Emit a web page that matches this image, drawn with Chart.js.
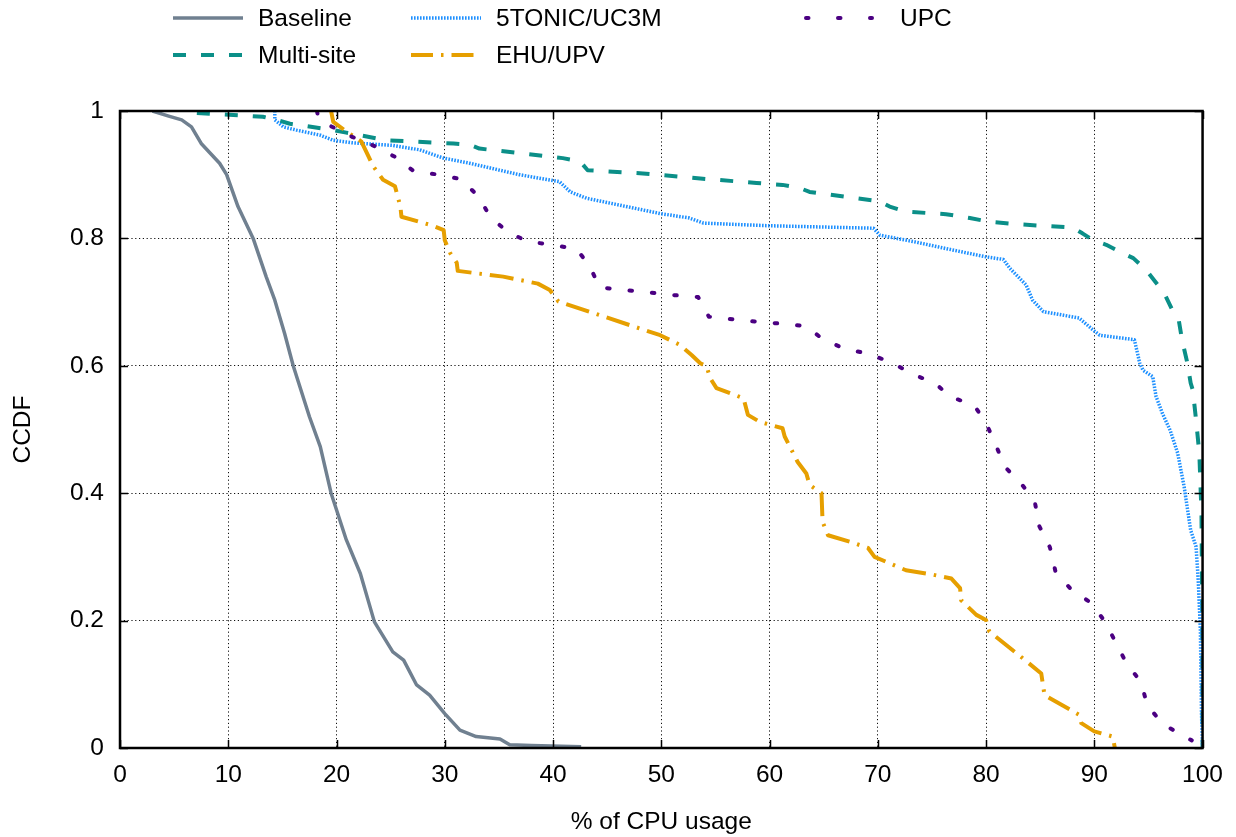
<!DOCTYPE html>
<html>
<head>
<meta charset="utf-8">
<script src="https://cdn.jsdelivr.net/npm/chart.js@4.4.1/dist/chart.umd.min.js"></script>
<style>
html,body{margin:0;padding:0;background:#fff;}
#wrap{width:1236px;height:837px;position:relative;}
</style>
</head>
<body>
<div id="wrap"><canvas id="c" width="1236" height="837"></canvas></div>
<script>
// ---- data ----
const seriesNames = ["Baseline", "Multi-site", "5TONIC/UC3M", "EHU/UPV", "UPC"];

const baselineX = [3, 4.5, 5.7, 6.6, 7.5, 9.2, 9.85, 10.9, 12.3, 13.5, 14.3, 15.2, 16.0, 17.5, 18.5, 19.5, 20.9, 22.2, 23.5, 25.2, 26.2, 27.4, 28.6, 30, 31.4, 32.9, 35.1, 36, 38, 42.6];
const baselineY = [1, 0.992, 0.986, 0.975, 0.949, 0.918, 0.9, 0.85, 0.8, 0.74, 0.703, 0.651, 0.6, 0.52, 0.473, 0.4, 0.327, 0.274, 0.198, 0.151, 0.138, 0.099, 0.083, 0.054, 0.028, 0.018, 0.014, 0.005, 0.004, 0.002];

const multiX = [7.1, 13.2, 14.5, 15.7, 19.7, 20.9, 22.2, 24.6, 30.8, 32.3, 33.2, 36.9, 40.9, 42.5, 43.2, 48.3, 53.6, 58.8, 61.2, 62.8, 63.7, 70.2, 71.1, 72.6, 76.3, 78.5, 80.3, 83.1, 88, 88.9, 89.9, 91.1, 92.6, 93.6, 94.8, 96, 96.6, 97.2, 97.8, 98.1, 98.6, 98.9, 99.1, 99.4, 99.7, 99.9, 99.97, 100];
const multiY = [0.997, 0.991, 0.986, 0.98, 0.97, 0.966, 0.962, 0.954, 0.949, 0.947, 0.941, 0.934, 0.926, 0.921, 0.907, 0.902, 0.894, 0.887, 0.884, 0.879, 0.873, 0.858, 0.85, 0.842, 0.838, 0.832, 0.826, 0.822, 0.817, 0.808, 0.797, 0.79, 0.777, 0.769, 0.75, 0.724, 0.709, 0.688, 0.672, 0.641, 0.604, 0.573, 0.562, 0.515, 0.463, 0.369, 0.212, 0];

const tonicX = [14.3, 14.3, 15.1, 16.3, 18.5, 19.7, 21.5, 25.2, 27.7, 29.9, 32.3, 35.1, 36.9, 40.6, 41.6, 43.1, 49.9, 52.6, 53.9, 59.7, 69.6, 70.2, 73.3, 76.3, 80, 81.6, 82.2, 83.7, 84.3, 85.3, 88.6, 89.9, 90.5, 93.7, 94.2, 94.5, 95.4, 95.7, 96.3, 97, 97.7, 98.3, 98.9, 99.4, 99.6, 99.8, 99.9, 100];
const tonicY = [1, 0.986, 0.975, 0.97, 0.962, 0.954, 0.95, 0.946, 0.939, 0.926, 0.918, 0.907, 0.9, 0.889, 0.873, 0.863, 0.839, 0.832, 0.824, 0.82, 0.816, 0.805, 0.795, 0.784, 0.771, 0.767, 0.753, 0.727, 0.703, 0.685, 0.675, 0.656, 0.648, 0.641, 0.604, 0.593, 0.583, 0.552, 0.525, 0.499, 0.463, 0.41, 0.342, 0.316, 0.264, 0.185, 0.055, 0];

const ehuX = [19.5, 19.7, 20.9, 22.3, 23.4, 24.3, 25.4, 25.9, 26, 28.9, 29.9, 30, 30.5, 31.1, 31.2, 35.4, 38.6, 39.7, 40.5, 49.9, 51.7, 52.8, 53.6, 54.2, 54.5, 55.1, 57.6, 58, 59.1, 61.2, 61.4, 62.6, 63.4, 63.7, 64.8, 64.9, 65.4, 67.4, 69.1, 69.7, 72.6, 75.1, 76.8, 77.6, 77.7, 79.1, 80, 80.3, 83.6, 85.1, 85.4, 88.6, 88.8, 90, 91.7, 91.9];
const ehuY = [1, 0.983, 0.968, 0.952, 0.913, 0.892, 0.882, 0.85, 0.834, 0.82, 0.813, 0.797, 0.777, 0.762, 0.749, 0.74, 0.729, 0.719, 0.701, 0.648, 0.633, 0.617, 0.604, 0.599, 0.581, 0.565, 0.549, 0.523, 0.512, 0.502, 0.489, 0.449, 0.431, 0.413, 0.4, 0.355, 0.334, 0.324, 0.314, 0.3, 0.279, 0.272, 0.266, 0.251, 0.232, 0.209, 0.201, 0.183, 0.138, 0.117, 0.083, 0.052, 0.039, 0.026, 0.018, 0];

const upcX = [18.2, 18.3, 19.5, 21.5, 23.5, 25.4, 27.1, 29.4, 31.5, 33.1, 34.2, 35.8, 37.7, 39.9, 42.2, 43.4, 44.3, 46.6, 48.9, 51.1, 53.4, 54.4, 56.6, 58.9, 61.2, 63.4, 64.9, 66.9, 69.1, 71.3, 73.3, 75.3, 76.6, 78.9, 80, 80.9, 81.7, 83.3, 84.5, 84.9, 85.9, 86.4, 87.9, 89.7, 91, 92, 93, 94.3, 94.9, 96.3, 98.2, 99];
const upcY = [1, 0.99, 0.976, 0.959, 0.945, 0.928, 0.906, 0.9, 0.893, 0.866, 0.834, 0.81, 0.795, 0.79, 0.783, 0.756, 0.723, 0.719, 0.715, 0.711, 0.708, 0.677, 0.673, 0.669, 0.666, 0.662, 0.642, 0.627, 0.619, 0.605, 0.586, 0.573, 0.552, 0.538, 0.51, 0.476, 0.442, 0.414, 0.387, 0.349, 0.315, 0.278, 0.248, 0.228, 0.198, 0.165, 0.132, 0.104, 0.067, 0.038, 0.019, 0.012];

const xTicks = [0, 10, 20, 30, 40, 50, 60, 70, 80, 90, 100];
const yTicks = [0, 0.2, 0.4, 0.6, 0.8, 1];
const xTitle = "% of CPU usage";
const yTitle = "CCDF";

// ---- build ----
function pts(xs, ys){ return xs.map((x,i)=>({x:x, y:ys[i]})); }
const FONT = "'Liberation Sans', Arial, Helvetica, sans-serif";
const FS = 24.5;

const styles = [
  {color:"#708090", width:3.5, dash:[], cap:"butt", legendDash:[], lx:173, lw:70},
  {color:"#0b8f88", width:4, dash:[13,15], cap:"butt", legendDash:[13,15], lx:173, lw:70},
  {color:"#1e90ff", width:3.5, dash:[1.6,1.4], cap:"butt", legendDash:[1.6,1.4], lx:411, lw:70},
  {color:"#e69f00", width:4, dash:[24,8,2.5,8], cap:"butt", legendDash:[22,8,2.5,8], lx:411, lw:70},
  {color:"#4b0082", width:4, dash:[2.5,20], cap:"round", legendDash:[2.5,29.5], lx:806, lw:66}
];
const seriesData = [pts(baselineX,baselineY), pts(multiX,multiY), pts(tonicX,tonicY), pts(ehuX,ehuY), pts(upcX,upcY)];

const datasets = seriesNames.map((n,i)=>({
  label:n, data:seriesData[i], borderColor:styles[i].color, backgroundColor:styles[i].color,
  borderWidth:styles[i].width, borderDash:styles[i].dash, borderCapStyle:styles[i].cap,
  borderJoinStyle:"round", pointRadius:0, tension:0, fill:false, showLine:true, order:5-i
}));

const textX = [258, 258, 496, 496, 900];
const rowsY = [18, 55, 18, 55, 18];

const framePlugin = {
  id:"frame",
  afterDatasetsDraw(chart){
    const {ctx, chartArea:a, scales} = chart;
    ctx.save();
    ctx.strokeStyle = "#000";
    ctx.lineWidth = 1.5;
    ctx.setLineDash([]);
    const L = 8;
    ctx.beginPath();
    xTicks.forEach(v=>{
      const px = Math.round(scales.x.getPixelForValue(v))+0.5;
      ctx.moveTo(px,a.bottom); ctx.lineTo(px,a.bottom-L);
      ctx.moveTo(px,a.top); ctx.lineTo(px,a.top+L);
    });
    yTicks.forEach(v=>{
      const py = Math.round(scales.y.getPixelForValue(v))+0.5;
      ctx.moveTo(a.left,py); ctx.lineTo(a.left+L,py);
      ctx.moveTo(a.right,py); ctx.lineTo(a.right-L,py);
    });
    ctx.stroke();
    ctx.lineWidth = 2.5;
    ctx.strokeRect(a.left, a.top, a.right-a.left, a.bottom-a.top);
    ctx.restore();
  },
  afterDraw(chart){
    const ctx = chart.ctx;
    const ds = chart.data.datasets;
    ctx.save();
    ds.forEach((d,i)=>{
      const st = styles[i];
      const y0 = rowsY[i];
      ctx.strokeStyle = d.borderColor;
      ctx.lineWidth = d.borderWidth;
      ctx.lineCap = d.borderCapStyle;
      ctx.setLineDash(st.legendDash);
      ctx.beginPath();
      ctx.moveTo(st.lx, y0); ctx.lineTo(st.lx+st.lw, y0);
      ctx.stroke();
      ctx.setLineDash([]);
      ctx.fillStyle = "#000";
      ctx.font = FS + "px " + FONT;
      ctx.textBaseline = "middle";
      ctx.textAlign = "left";
      ctx.fillText(d.label, textX[i], y0+1);
    });
    ctx.restore();
  }
};

new Chart(document.getElementById("c"), {
  type:"line",
  data:{datasets:datasets},
  options:{
    responsive:false, animation:false,
    layout:{padding:{top:111, right:33, left:0, bottom:0}},
    plugins:{legend:{display:false}, tooltip:{enabled:false}},
    scales:{
      x:{type:"linear", min:0, max:100,
        afterBuildTicks(s){ s.ticks = xTicks.map(v=>({value:v})); },
        afterFit(s){ s.height = 89; },
        border:{display:false, dash:[1.2,2.6]},
        grid:{color:"#111", lineWidth:1, drawTicks:false, tickLength:0},
        ticks:{color:"#000", padding:13, maxRotation:0, font:{family:FONT, size:FS}},
        title:{display:true, text:xTitle, color:"#000", font:{family:FONT, size:FS}, padding:{top:0, bottom:0}}
      },
      y:{type:"linear", min:0, max:1,
        afterBuildTicks(s){ s.ticks = yTicks.map(v=>({value:v})); },
        afterFit(s){ s.width = 120; },
        border:{display:false, dash:[1.2,2.6]},
        grid:{color:"#111", lineWidth:1, drawTicks:false, tickLength:0},
        ticks:{color:"#000", padding:16, font:{family:FONT, size:FS}, callback:(v)=>String(Math.round(v*10)/10)},
        title:{display:true, text:yTitle, color:"#000", font:{family:FONT, size:FS}, padding:{top:9, bottom:0}}
      }
    }
  },
  plugins:[framePlugin]
});
</script>
</body>
</html>
